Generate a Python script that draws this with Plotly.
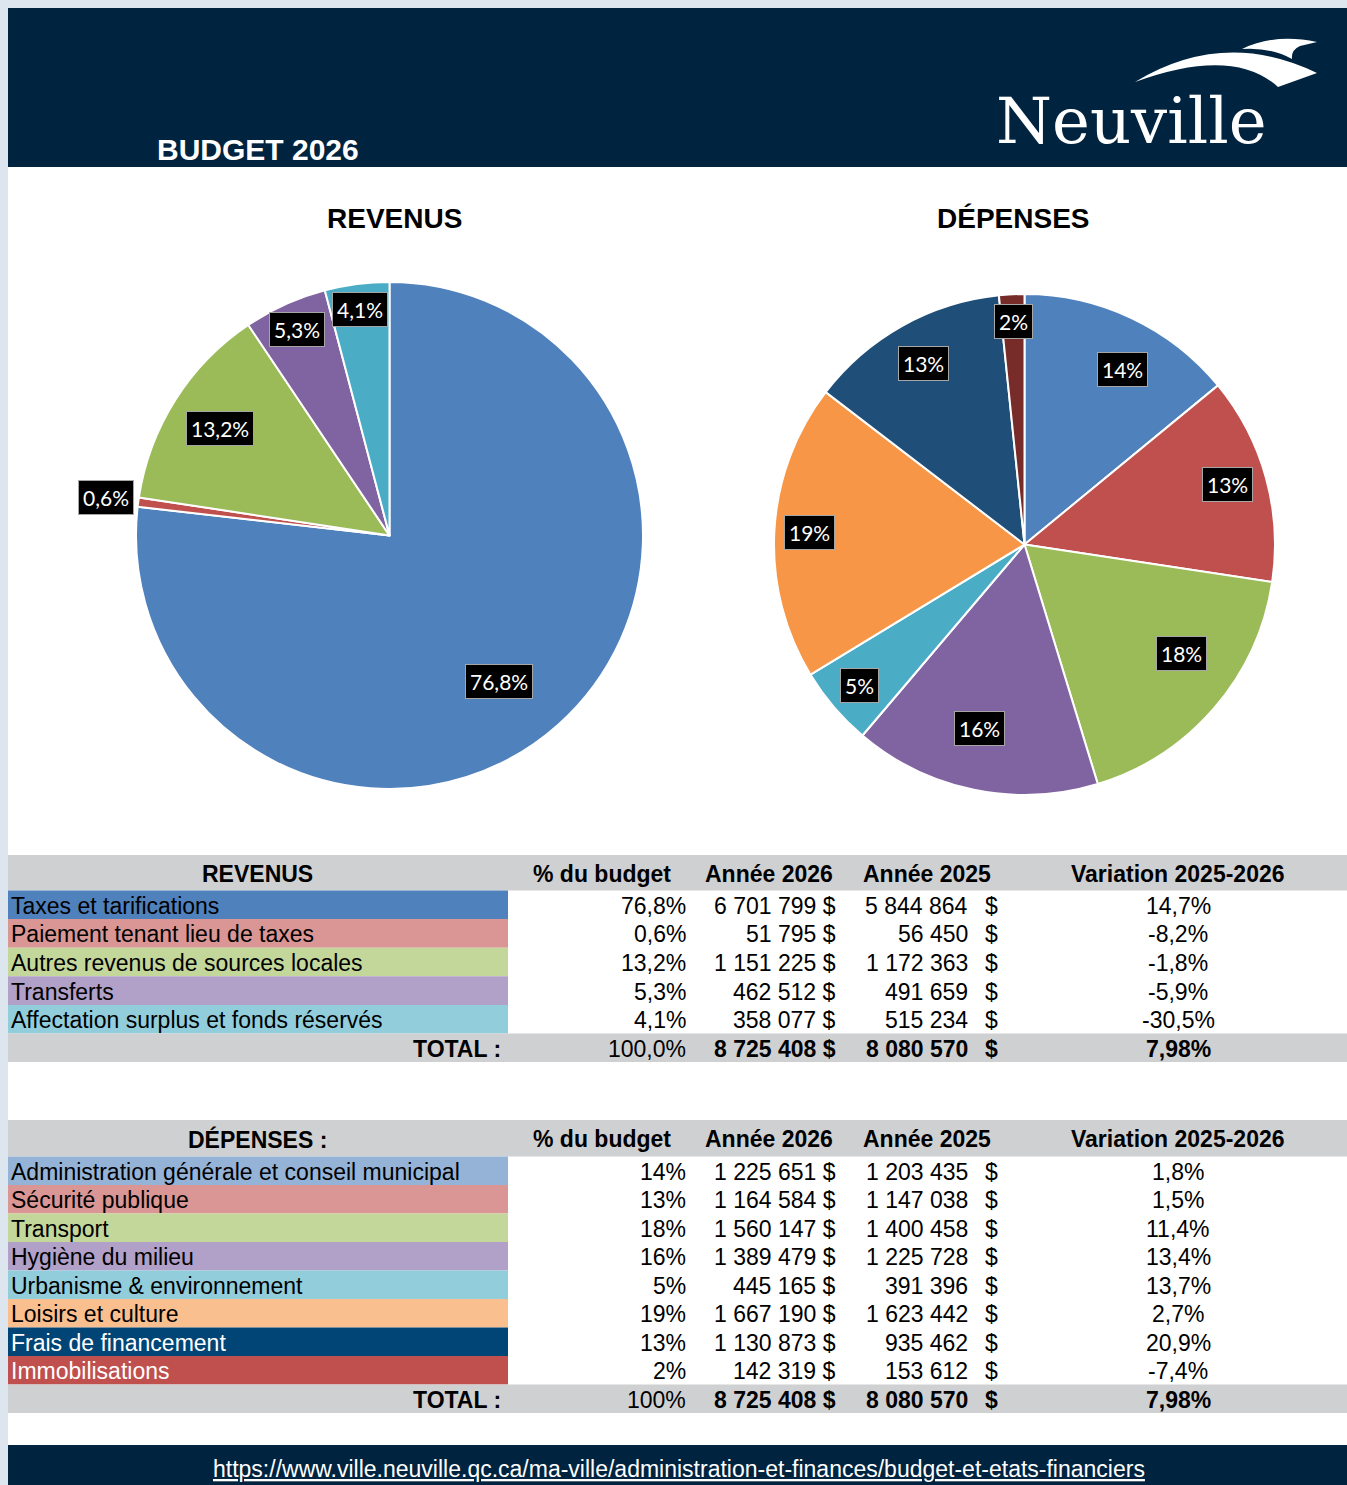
import plotly.graph_objects as go
import math

W, H = 1347, 1485

# ---------------- DATA ----------------
rev_labels = ["Taxes et tarifications", "Paiement tenant lieu de taxes",
              "Autres revenus de sources locales", "Transferts",
              "Affectation surplus et fonds réservés"]
rev_pct = [76.8, 0.6, 13.2, 5.3, 4.1]
rev_2026 = [6701799, 51795, 1151225, 462512, 358077]
rev_2025 = [5844864, 56450, 1172363, 491659, 515234]
rev_var = [14.7, -8.2, -1.8, -5.9, -30.5]
rev_total_pct = 100.0
rev_total_2026 = 8725408
rev_total_2025 = 8080570
rev_total_var = 7.98

dep_labels = ["Administration générale et conseil municipal", "Sécurité publique",
              "Transport", "Hygiène du milieu", "Urbanisme & environnement",
              "Loisirs et culture", "Frais de financement", "Immobilisations"]
dep_pct = [14, 13, 18, 16, 5, 19, 13, 2]
dep_2026 = [1225651, 1164584, 1560147, 1389479, 445165, 1667190, 1130873, 142319]
dep_2025 = [1203435, 1147038, 1400458, 1225728, 391396, 1623442, 935462, 153612]
dep_var = [1.8, 1.5, 11.4, 13.4, 13.7, 2.7, 20.9, -7.4]
dep_total_pct = 100
dep_total_2026 = 8725408
dep_total_2025 = 8080570
dep_total_var = 7.98

col_headers = ["% du budget", "Année 2026", "Année 2025", "Variation 2025-2026"]
url = "https://www.ville.neuville.qc.ca/ma-ville/administration-et-finances/budget-et-etats-financiers"

# ---------------- STYLE ----------------
NAVY = "#00243f"
STRIP = "#dde6ef"
GRAY = "#cfd0d2"
rev_pie_colors = ["#4f81bd", "#c0504d", "#9bbb59", "#8064a2", "#4bacc6"]
dep_pie_colors = ["#4f81bd", "#c0504d", "#9bbb59", "#8064a2", "#4bacc6",
                  "#f79646", "#1f4e79", "#772c2a"]
rev_row_colors = ["#4f81bd", "#da9694", "#c4d79b", "#b1a0c7", "#92cddc"]
dep_row_colors = ["#95b3d7", "#da9694", "#c4d79b", "#b1a0c7", "#92cddc",
                  "#fabf8f", "#004575", "#c0504d"]
dep_row_text = ["#000", "#000", "#000", "#000", "#000", "#000", "#fff", "#fff"]
rev_label_r = [0.72, 1.13, 0.79, 0.89, 0.90]
rev_label_da = [5, 0, 0, 0, 0]
dep_label_r = [0.80, 0.845, 0.764, 0.755, 0.865, 0.86, 0.83, 0.89]
dep_label_da = [4, -1, -6, 2, 0, 0, 0, 0]

TFONT = "Liberation Sans, Arial"
TSIZE = 23


def X(px):
    return px / W


def Y(py):
    return 1 - py / H


shapes = []
ann = []


def rect(x0, y0, x1, y1, color):
    shapes.append(dict(type="rect", xref="paper", yref="paper",
                       x0=X(x0), x1=X(x1), y0=Y(y1), y1=Y(y0),
                       fillcolor=color, line=dict(width=0), layer="below"))


def text(x, y, s, size=TSIZE, color="#000", bold=False, xanchor="center",
         family=TFONT, **kw):
    if bold:
        s = "<b>" + s + "</b>"
    ann.append(dict(xref="paper", yref="paper", x=X(x), y=Y(y), text=s,
                    showarrow=False, xanchor=xanchor, yanchor="middle",
                    font=dict(family=family, size=size, color=color), **kw))


def money(v):
    return f"{v:,}".replace(",", " ")


def pct1(v):
    return f"{v:.1f}".replace(".", ",") + "%"


# ---------------- background / header ----------------
rect(0, 0, W, 8, STRIP)
rect(0, 0, 8, H, STRIP)
rect(8, 8, W, 167, NAVY)
rect(8, 1445, W, H, NAVY)

text(258, 149, "BUDGET 2026", size=30, color="#fff", bold=True)
text(1131, 121, "Neuville", size=64, color="#fff", family="DejaVu Serif, Liberation Serif")
# logo swoosh
shapes.append(dict(type="path", xref="paper", yref="paper", layer="above",
                   path="M {},{} Q {},{} {},{} L {},{} Q {},{} {},{} Z".format(
                       X(1135), Y(82), X(1224), Y(28), X(1317), Y(73),
                       X(1278), Y(87), X(1233), Y(46), X(1135), Y(82)),
                   fillcolor="#fff", line=dict(width=0)))
shapes.append(dict(type="path", xref="paper", yref="paper", layer="above",
                   path="M {},{} Q {},{} {},{} L {},{} Q {},{} {},{} Q {},{} {},{} Z".format(
                       X(1242), Y(49), X(1275), Y(33), X(1317), Y(42),
                       X(1300), Y(46), X(1291), Y(50), X(1292), Y(59),
                       X(1270), Y(47), X(1242), Y(49)),
                   fillcolor="#fff", line=dict(width=0)))


# ---------------- pies ----------------
def pie(values, colors, cx, cy, r, pct_text, label_r, label_da):
    dom_x = [X(cx - r), X(cx + r)]
    dom_y = [Y(cy + r), Y(cy - r)]
    tr = go.Pie(values=values, sort=False, direction="clockwise", rotation=0,
                marker=dict(colors=colors, line=dict(color="#fff", width=2)),
                textinfo="none", hoverinfo="skip", showlegend=False,
                domain=dict(x=dom_x, y=dom_y))
    tot = sum(values)
    cum = 0
    for v, t, f, da in zip(values, pct_text, label_r, label_da):
        mid = (cum + v / 2) / tot
        cum += v
        th = 2 * math.pi * mid + math.radians(da)
        lx = cx + f * r * math.sin(th)
        ly = cy - f * r * math.cos(th)
        text(lx, ly, t, size=21, color="#fff", family="Lato, Carlito, Liberation Sans",
             bgcolor="#000", bordercolor="#a6a6a6", borderwidth=1, borderpad=4)
    return tr


tr1 = pie(rev_2026, rev_pie_colors, 389.5, 535.5, 253.5,
          [pct1(p) for p in rev_pct], rev_label_r, rev_label_da)
tr2 = pie(dep_2026, dep_pie_colors, 1024.5, 544.5, 250.5,
          [f"{p}%" for p in dep_pct], dep_label_r, dep_label_da)

text(394, 218, "REVENUS", size=28, bold=True)
text(1013, 218, "DÉPENSES", size=28, bold=True)

# ---------------- tables ----------------
COLX_PCT = 688
COLX_26 = 838
COLX_25 = 970
COLX_25D = 991
COLX_VAR = 1178
HDRX = [602, 769, 927, 1178]


def table(title, top, hdr_h, row_h, labels, row_colors, text_colors, pcts, v26, v25,
          var, tot_pct, tot26, tot25, totvar):
    rect(8, top, W, top + hdr_h, GRAY)
    hy = top + hdr_h / 2 + 1
    text(257, hy, title, bold=True)
    for hx, h in zip(HDRX, col_headers):
        text(hx, hy, h, bold=True)
    y0 = top + hdr_h
    for i, lab in enumerate(labels):
        ya = y0 + i * row_h
        rect(8, ya, 508, ya + row_h, row_colors[i])
        cy = ya + row_h / 2 + 1
        text(9, cy, lab, color=text_colors[i], xanchor="left")
        text(COLX_PCT, cy, pcts[i], xanchor="right")
        text(COLX_26, cy, money(v26[i]) + " $", xanchor="right")
        text(COLX_25, cy, money(v25[i]), xanchor="right")
        text(COLX_25D, cy, "$")
        text(COLX_VAR, cy, pct1(var[i]))
    ya = y0 + len(labels) * row_h
    rect(8, ya, W, ya + row_h, GRAY)
    cy = ya + row_h / 2 + 1
    text(503, cy, "TOTAL :", bold=True, xanchor="right")
    text(COLX_PCT, cy, tot_pct, xanchor="right")
    text(COLX_26, cy, money(tot26) + " $", bold=True, xanchor="right")
    text(COLX_25, cy, money(tot25), bold=True, xanchor="right")
    text(COLX_25D, cy, "$", bold=True)
    text(COLX_VAR, cy, f"{totvar:.2f}".replace(".", ",") + "%", bold=True)


table("REVENUS", 855, 35.5, 28.6, rev_labels, rev_row_colors, ["#000"] * 5,
      [pct1(p) for p in rev_pct], rev_2026, rev_2025, rev_var,
      pct1(rev_total_pct), rev_total_2026, rev_total_2025, rev_total_var)

table("DÉPENSES :", 1120, 36.5, 28.5, dep_labels, dep_row_colors, dep_row_text,
      [f"{p}%" for p in dep_pct], dep_2026, dep_2025, dep_var,
      f"{dep_total_pct}%", dep_total_2026, dep_total_2025, dep_total_var)

# footer
text(679, 1469, "<u>" + url + "</u>", size=23, color="#fff")

fig = go.Figure([tr1, tr2])
fig.update_layout(width=W, height=H, margin=dict(l=0, r=0, t=0, b=0, pad=0),
                  paper_bgcolor="#fff", plot_bgcolor="#fff",
                  shapes=shapes, annotations=ann,
                  xaxis=dict(visible=False), yaxis=dict(visible=False))
fig.write_html("out.html", config={"displayModeBar": False},
               post_script="document.body.style.margin='0';document.body.style.overflow='hidden';")
